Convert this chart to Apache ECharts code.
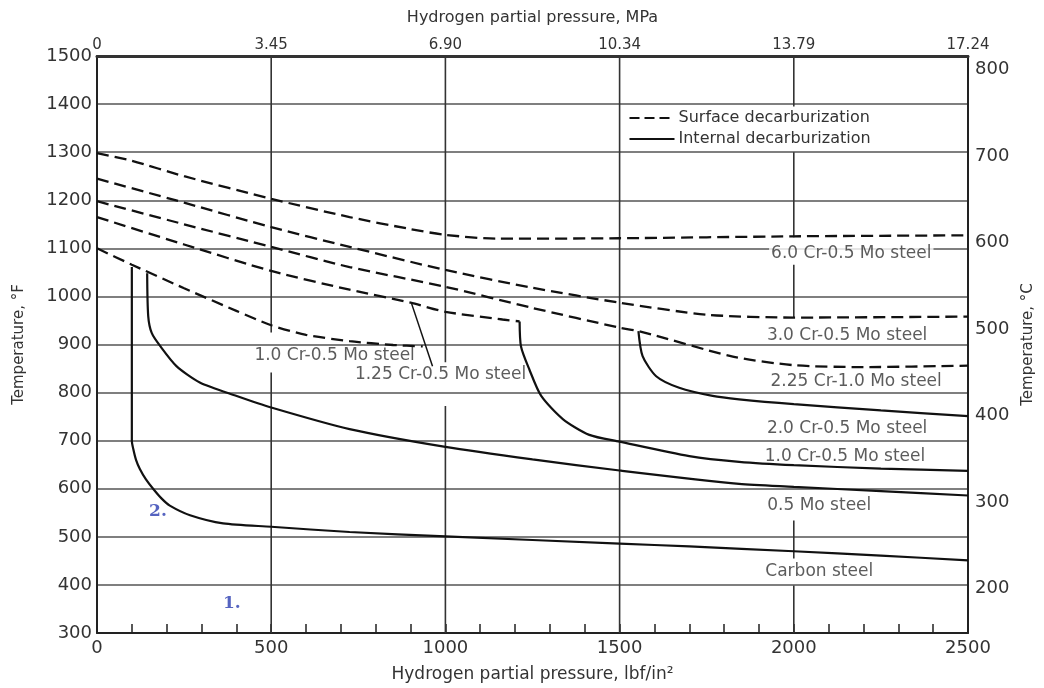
<!DOCTYPE html>
<html><head><meta charset="utf-8">
<script src="https://cdn.jsdelivr.net/npm/echarts@6/dist/echarts.min.js"></script>
<style>html,body{margin:0;padding:0;background:#fff}#c{width:1044px;height:688px}</style>
</head><body><div id="c"></div>
<script>
// ---- axis ticks ----
const psiTicks = [0, 500, 1000, 1500, 2000, 2500];
const mpaTickLabels = ['0', '3.45', '6.90', '10.34', '13.79', '17.24'];
const degFTicks = [300, 400, 500, 600, 700, 800, 900, 1000, 1100, 1200, 1300, 1400, 1500];
const degCTicks = [200, 300, 400, 500, 600, 700, 800];

// ---- surface decarburization (dashed) [psi, °F] ----
const surf_6Cr05Mo = [[0,1298],[100,1282],[250,1250],[500,1203],[725,1165],[900,1140],[1000,1128],[1150,1120],[1500,1121],[2000,1125],[2500,1127]];
const surf_3Cr05Mo = [[0,1245],[250,1195],[500,1144],[725,1103],[1000,1055],[1250,1018],[1500,987],[1750,962],[2000,956],[2500,958]];
const surf_225Cr1Mo = [[0,1198],[250,1150],[500,1103],[725,1061],[1000,1020],[1250,976],[1500,935],[1560,927],[1825,875],[2000,857],[2200,853],[2500,856]];
const surf_125Cr05Mo = [[0,1165],[250,1108],[500,1053],[725,1014],[900,987],[1000,968],[1164,952],[1213,948]];
const surf_1Cr05Mo = [[0,1100],[100,1066],[250,1017],[400,970],[500,940],[600,920],[725,907],[850,899],[935,896]];

// ---- internal decarburization (solid) [psi, °F] ----
const int_carbon = [[100,1061],[100,700],[104,683],[112,660],[123,641],[140,620],[161,600],[185,580],[209,565],[267,545],[362,528],[500,521],[725,510],[1000,501],[1500,486],[1700,480],[2000,470],[2250,461],[2500,451]];
const int_05Mo = [[144,1048],[147,959],[157,924],[181,897],[228,855],[295,821],[401,793],[500,769],[725,724],[1000,687],[1250,661],[1500,638],[1843,610],[2000,604],[2250,595],[2500,586]];
const int_1Cr05Mo = [[1213,948],[1217,896],[1241,848],[1275,793],[1337,745],[1413,712],[1500,698],[1700,668],[1843,656],[2000,649],[2250,642],[2500,637]];
const int_2Cr05Mo = [[1554,928],[1566,876],[1605,834],[1671,810],[1767,793],[1843,786],[2000,776],[2250,763],[2500,751]];

// ---- vertical grid segments [psi, °F top, °F bottom] ----
const vGrid = [[500,1500,925],[500,842,300],[1000,1500,863],[1000,772,300],[1500,1500,300],
  [2000,1500,1395],[2000,1300,1123],[2000,1066,956],[2000,534,455],[2000,399,300]];

// ---- text annotations [text, psi, °F] ----
const curveLabels = [
  ['6.0 Cr-0.5 Mo steel', 2165, 1090],
  ['3.0 Cr-0.5 Mo steel', 2153, 919],
  ['2.25 Cr-1.0 Mo steel', 2179, 823],
  ['2.0 Cr-0.5 Mo steel', 2153, 726],
  ['1.0 Cr-0.5 Mo steel', 2147, 666],
  ['0.5 Mo steel', 2073, 565],
  ['Carbon steel', 2073, 428],
  ['1.0 Cr-0.5 Mo steel', 682, 876],
  ['1.25 Cr-0.5 Mo steel', 986, 838]
];
const markNotes = [['2.', 175, 552], ['1.', 387, 362]];
const arrow125 = [[963, 855], [903, 985]];
const legendNames = ['Surface decarburization', 'Internal decarburization'];

const FONT = 'DejaVu Sans';
const dashed = [surf_6Cr05Mo, surf_3Cr05Mo, surf_225Cr1Mo, surf_125Cr05Mo, surf_1Cr05Mo];
const solid = [int_carbon, int_05Mo, int_1Cr05Mo, int_2Cr05Mo];
const DASH = [12, 6];

const series = [];
dashed.forEach(d => series.push({type:'line', name:legendNames[0], data:d, symbol:'none', smooth:0.25, z:3,
  lineStyle:{color:'#111', width:2.3, type:DASH}}));
solid.forEach(d => series.push({type:'line', name:legendNames[1], data:d, symbol:'none', smooth:0.25, z:3,
  lineStyle:{color:'#111', width:2.2, type:'solid'}}));
vGrid.forEach(s => series.push({type:'line', data:[[s[0],s[1]],[s[0],s[2]]], symbol:'none', silent:true, z:2,
  lineStyle:{color:'#333', width:1.6}}));
series.push({type:'scatter', symbolSize:1, silent:true, z:1, itemStyle:{color:'rgba(0,0,0,0)'},
  data: curveLabels.map(l => ({value:[l[1], l[2]], label:{formatter:l[0]}})),
  label:{show:true, position:'inside', color:'#333', fontFamily:FONT, fontSize:17, backgroundColor:'#fff', padding:[0,2]}});
series.push({type:'scatter', symbolSize:1, silent:true, z:1, itemStyle:{color:'rgba(0,0,0,0)'},
  data: markNotes.map(l => ({value:[l[1], l[2]], label:{formatter:l[0]}})),
  label:{show:true, position:'inside', color:'#2a3cb0', fontFamily:'DejaVu Serif', fontSize:17, fontWeight:'bold'}});
series.push({type:'line', data:[], silent:true,
  markLine:{silent:true, symbol:['none','arrow'], symbolSize:[0,10], label:{show:false},
    lineStyle:{color:'#111', width:1.5, type:'solid'},
    data:[[{coord:arrow125[0]},{coord:arrow125[1]}]]}});

// legend drawn as graphic (line sample + text)
const legendGraphic = legendNames.map((name, i) => ({
  type:'group', left:627, top:110 + i*21, z:10,
  children:[
    {type:'rect', shape:{x:-2, y:-1, width:262, height:16}, style:{fill:'#fff'}},
    {type:'line', shape:{x1:0, y1:7, x2:45, y2:7}, style:{stroke:'#111', lineWidth:2, lineDash: i === 0 ? [10,5] : null}},
    {type:'text', x:49, y:7, style:{text:name, fill:'#333', font:'16px "DejaVu Sans"', verticalAlign:'middle'}}
  ]
}));

const plain = v => String(v);
const chart = echarts.init(document.getElementById('c'));
chart.setOption({
  animation:false,
  backgroundColor:'#fff',
  grid:{left:97, right:76, top:56, bottom:53},
  graphic: legendGraphic,
  xAxis:[
    {type:'value', position:'bottom', min:psiTicks[0], max:psiTicks[psiTicks.length-1], interval:500,
     name:'Hydrogen partial pressure, lbf/in²', nameLocation:'middle', nameGap:33,
     nameTextStyle:{fontFamily:FONT, fontSize:17, color:'#333'},
     axisLine:{onZero:false, lineStyle:{color:'#222', width:2}},
     axisTick:{show:true, inside:true, length:9, lineStyle:{color:'#222', width:1.5}},
     minorTick:{show:true, splitNumber:5, length:9, lineStyle:{color:'#222', width:1.5}},
     splitLine:{show:false},
     axisLabel:{fontFamily:FONT, fontSize:18, color:'#333', margin:6, formatter:plain}},
    {type:'value', position:'top', min:0, max:17.24, interval:3.448,
     name:'Hydrogen partial pressure, MPa', nameLocation:'middle', nameGap:30,
     nameTextStyle:{fontFamily:FONT, fontSize:16, color:'#333'},
     axisLine:{onZero:false, lineStyle:{color:'#333', width:3}},
     axisTick:{show:false}, splitLine:{show:false},
     axisLabel:{fontFamily:FONT, fontSize:15, color:'#333', margin:3,
       formatter:v => { let best = mpaTickLabels[0]; mpaTickLabels.forEach(t => { if (Math.abs(parseFloat(t)-v) < Math.abs(parseFloat(best)-v)) best = t; }); return best; }}}
  ],
  yAxis:[
    {type:'value', position:'left', min:degFTicks[0], max:degFTicks[degFTicks.length-1], interval:100,
     name:'Temperature, °F', nameLocation:'middle', nameGap:70, nameRotate:90,
     nameTextStyle:{fontFamily:FONT, fontSize:15, color:'#333'},
     axisLine:{show:true, onZero:false, lineStyle:{color:'#222', width:2}},
     axisTick:{show:false},
     splitLine:{show:true, lineStyle:{color:'#555', width:1.6}},
     axisLabel:{fontFamily:FONT, fontSize:18, color:'#333', margin:5, formatter:plain}},
    {type:'value', position:'right', min:(300-32)/1.8, max:(1500-32)/1.8,
     name:'Temperature, °C', nameLocation:'middle', nameGap:50, nameRotate:90,
     nameTextStyle:{fontFamily:FONT, fontSize:15, color:'#333'},
     axisLine:{show:true, onZero:false, lineStyle:{color:'#222', width:2}},
     axisTick:{show:false}, splitLine:{show:false},
     axisLabel:{customValues:degCTicks, fontFamily:FONT, fontSize:18, color:'#333', margin:7, formatter:plain}}
  ],
  series: series
});
</script></body></html>
